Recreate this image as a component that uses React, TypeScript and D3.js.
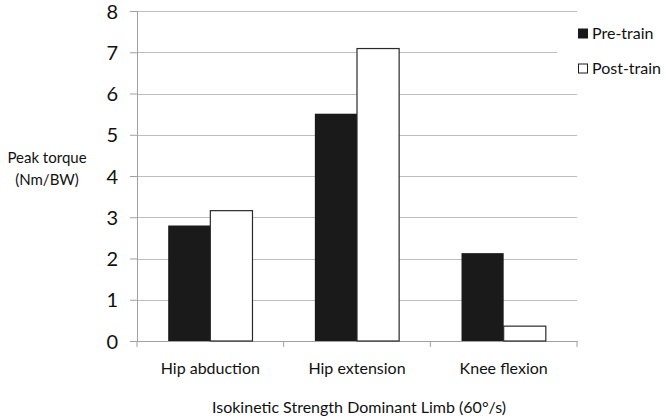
import React, { useRef, useEffect } from "react";
import * as d3 from "d3";

const categories = ["Hip abduction", "Hip extension", "Knee flexion"];
const seriesNames = ["Pre-train", "Post-train"];
const preTrain = [2.8, 5.51, 2.13];
const postTrain = [3.16, 7.09, 0.36];
const yTicks = [0, 1, 2, 3, 4, 5, 6, 7, 8];

const App = () => {
  const svgRef = useRef<SVGSVGElement>(null);

  useEffect(() => {
    const width = 666;
    const height = 420;
    const left = 137;
    const right = 577;
    const top = 11;
    const bottom = 341;
    const font = "Lato, 'Open Sans', sans-serif";

    const svg = d3.select(svgRef.current)
      .attr("width", width)
      .attr("height", height);
    svg.selectAll("*").remove();

    svg.append("rect").attr("width", width).attr("height", height).attr("fill", "#fff");

    const x = d3.scaleBand().domain(categories).range([left, right]).paddingInner(0).paddingOuter(0);
    const inner = d3.scaleBand().domain(seriesNames).range([0, x.bandwidth()]).paddingInner(0).paddingOuter(0.74);
    const y = d3.scaleLinear().domain([0, 8]).range([bottom, top]);

    // gridlines
    svg.append("g")
      .selectAll("line")
      .data(yTicks.filter(d => d > 0))
      .enter()
      .append("line")
      .attr("x1", left)
      .attr("x2", right)
      .attr("y1", d => Math.round(y(d)) + 0.5)
      .attr("y2", d => Math.round(y(d)) + 0.5)
      .attr("stroke", "#bdbdbd")
      .attr("stroke-width", 1);

    // y axis
    const yAxis = svg.append("g")
      .attr("transform", `translate(${left},0)`)
      .call(d3.axisLeft(y).tickValues(yTicks).tickSize(7).tickPadding(12).tickFormat(d3.format("d")));
    yAxis.select(".domain").attr("stroke", "#a0a0a0");
    yAxis.selectAll(".tick line").attr("stroke", "#a0a0a0");
    yAxis.selectAll(".tick text")
      .attr("fill", "#111")
      .attr("dy", "0.36em")
      .style("font-family", font)
      .style("font-size", "20px");

    // x axis
    const xAxis = svg.append("g")
      .attr("transform", `translate(0,${bottom})`)
      .call(d3.axisBottom(x).tickSize(0).tickPadding(22));
    xAxis.select(".domain").attr("stroke", "#a0a0a0");
    xAxis.selectAll(".tick text")
      .attr("fill", "#111")
      .style("font-family", font)
      .style("font-size", "16px");
    xAxis.selectAll(".sep")
      .data([left, ...categories.map(c => (x(c) as number) + x.bandwidth())])
      .enter()
      .append("line")
      .attr("x1", d => d)
      .attr("x2", d => d)
      .attr("y1", 0)
      .attr("y2", 6)
      .attr("stroke", "#a0a0a0");

    // bars
    const rows = categories.map((c, i) => ({ c, values: [preTrain[i], postTrain[i]] }));
    const groups = svg.append("g")
      .selectAll("g")
      .data(rows)
      .enter()
      .append("g")
      .attr("transform", d => `translate(${x(d.c)},0)`);
    groups.selectAll("rect")
      .data(d => d.values.map((v, j) => ({ name: seriesNames[j], v })))
      .enter()
      .append("rect")
      .attr("x", d => inner(d.name) as number)
      .attr("width", inner.bandwidth())
      .attr("y", d => y(d.v))
      .attr("height", d => y(0) - y(d.v))
      .attr("fill", d => d.name === "Pre-train" ? "#1a1a1a" : "#fff")
      .attr("stroke", d => d.name === "Pre-train" ? "none" : "#2a2a2a")
      .attr("stroke-width", 1.2);

    // legend
    const legend = svg.append("g");
    legend.append("rect").attr("x", 557).attr("y", 20).attr("width", 109).attr("height", 62).attr("fill", "#fff");
    seriesNames.forEach((name, i) => {
      const cy = 33.5 + i * 35;
      legend.append("rect")
        .attr("x", 578.5)
        .attr("y", cy - 4.5)
        .attr("width", 9)
        .attr("height", 9)
        .attr("fill", i === 0 ? "#1a1a1a" : "#fff")
        .attr("stroke", "#1a1a1a")
        .attr("stroke-width", 1);
      legend.append("text")
        .attr("x", 592)
        .attr("y", cy)
        .attr("dy", "0.35em")
        .text(name)
        .style("font-family", font)
        .style("font-size", "16px")
        .attr("fill", "#111");
    });

    // axis titles
    const yTitle = svg.append("text")
      .attr("x", 47)
      .attr("y", 158)
      .attr("text-anchor", "middle")
      .style("font-family", font)
      .style("font-size", "15px")
      .attr("fill", "#111");
    yTitle.append("tspan").attr("x", 47).attr("dy", "0.35em").text("Peak torque");
    yTitle.append("tspan").attr("x", 47).attr("dy", "1.45em").text("(Nm/BW)");

    svg.append("text")
      .attr("x", (left + right) / 2 + 2)
      .attr("y", 407)
      .attr("dy", "0.35em")
      .attr("text-anchor", "middle")
      .text("Isokinetic Strength Dominant Limb (60°/s)")
      .style("font-family", font)
      .style("font-size", "16px")
      .attr("fill", "#111");
  }, []);

  return <svg ref={svgRef} style={{ position: "fixed", left: 0, top: 0 }}></svg>;
};

export default App;
